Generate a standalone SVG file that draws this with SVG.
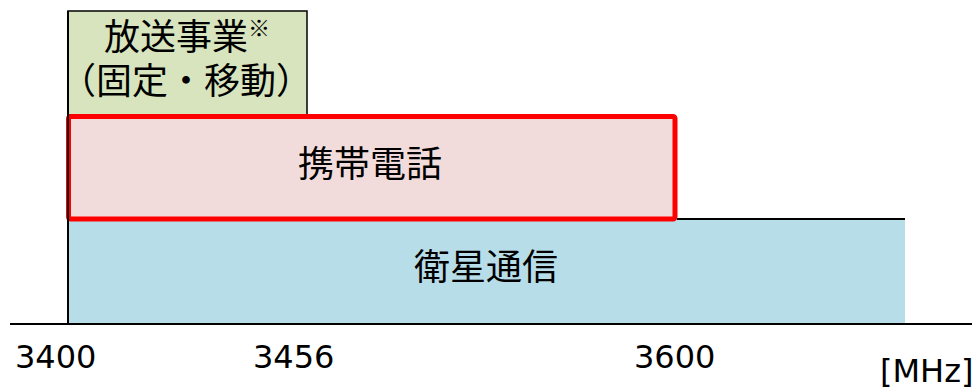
<svg xmlns="http://www.w3.org/2000/svg" width="974" height="390" viewBox="0 0 974 390">
<style>
.jp{font-family:"Noto Sans CJK JP","Noto Sans",sans-serif;font-size:36px;fill:#000;text-anchor:middle}
.num{font-family:"DejaVu Sans","Noto Sans",sans-serif;font-size:32px;fill:#000}
.ln{stroke:#000;stroke-width:2;fill:none}
</style>
<rect width="974" height="390" fill="#fff"/>
<g id="satellite">
<rect x="68" y="219" width="837" height="104" fill="#b7dde8"/>
<text class="jp" x="486" y="280">衛星通信</text>
</g>
<g id="broadcast">
<rect x="68" y="11" width="239" height="104" fill="#d7e4bd" stroke="#000" stroke-width="1.5"/>
<text class="jp"><tspan x="187" y="49.5">放送事業</tspan><tspan font-size="22" dy="-14">※</tspan><tspan x="186" y="94">（固定・移動）</tspan></text>
</g>
<g id="mobile">
<rect x="68.5" y="116.5" width="606.5" height="102.5" rx="2" fill="#f2dcdb" stroke="#ff0000" stroke-width="5"/>
<text class="jp" x="370" y="176.5">携帯電話</text>
</g>
<g id="connectors">
<line class="ln" x1="677" y1="219" x2="905" y2="219"/>
<line class="ln" x1="68" y1="11" x2="68" y2="324"/>
<line class="ln" x1="10" y1="324" x2="972" y2="324"/>
</g>
<g id="axis-labels">
<text class="num" x="15" y="368">3400</text>
<text class="num" x="253" y="368">3456</text>
<text class="num" x="634" y="368">3600</text>
<text class="num" x="880" y="382" font-size="30">[MHz]</text>
</g>
</svg>
